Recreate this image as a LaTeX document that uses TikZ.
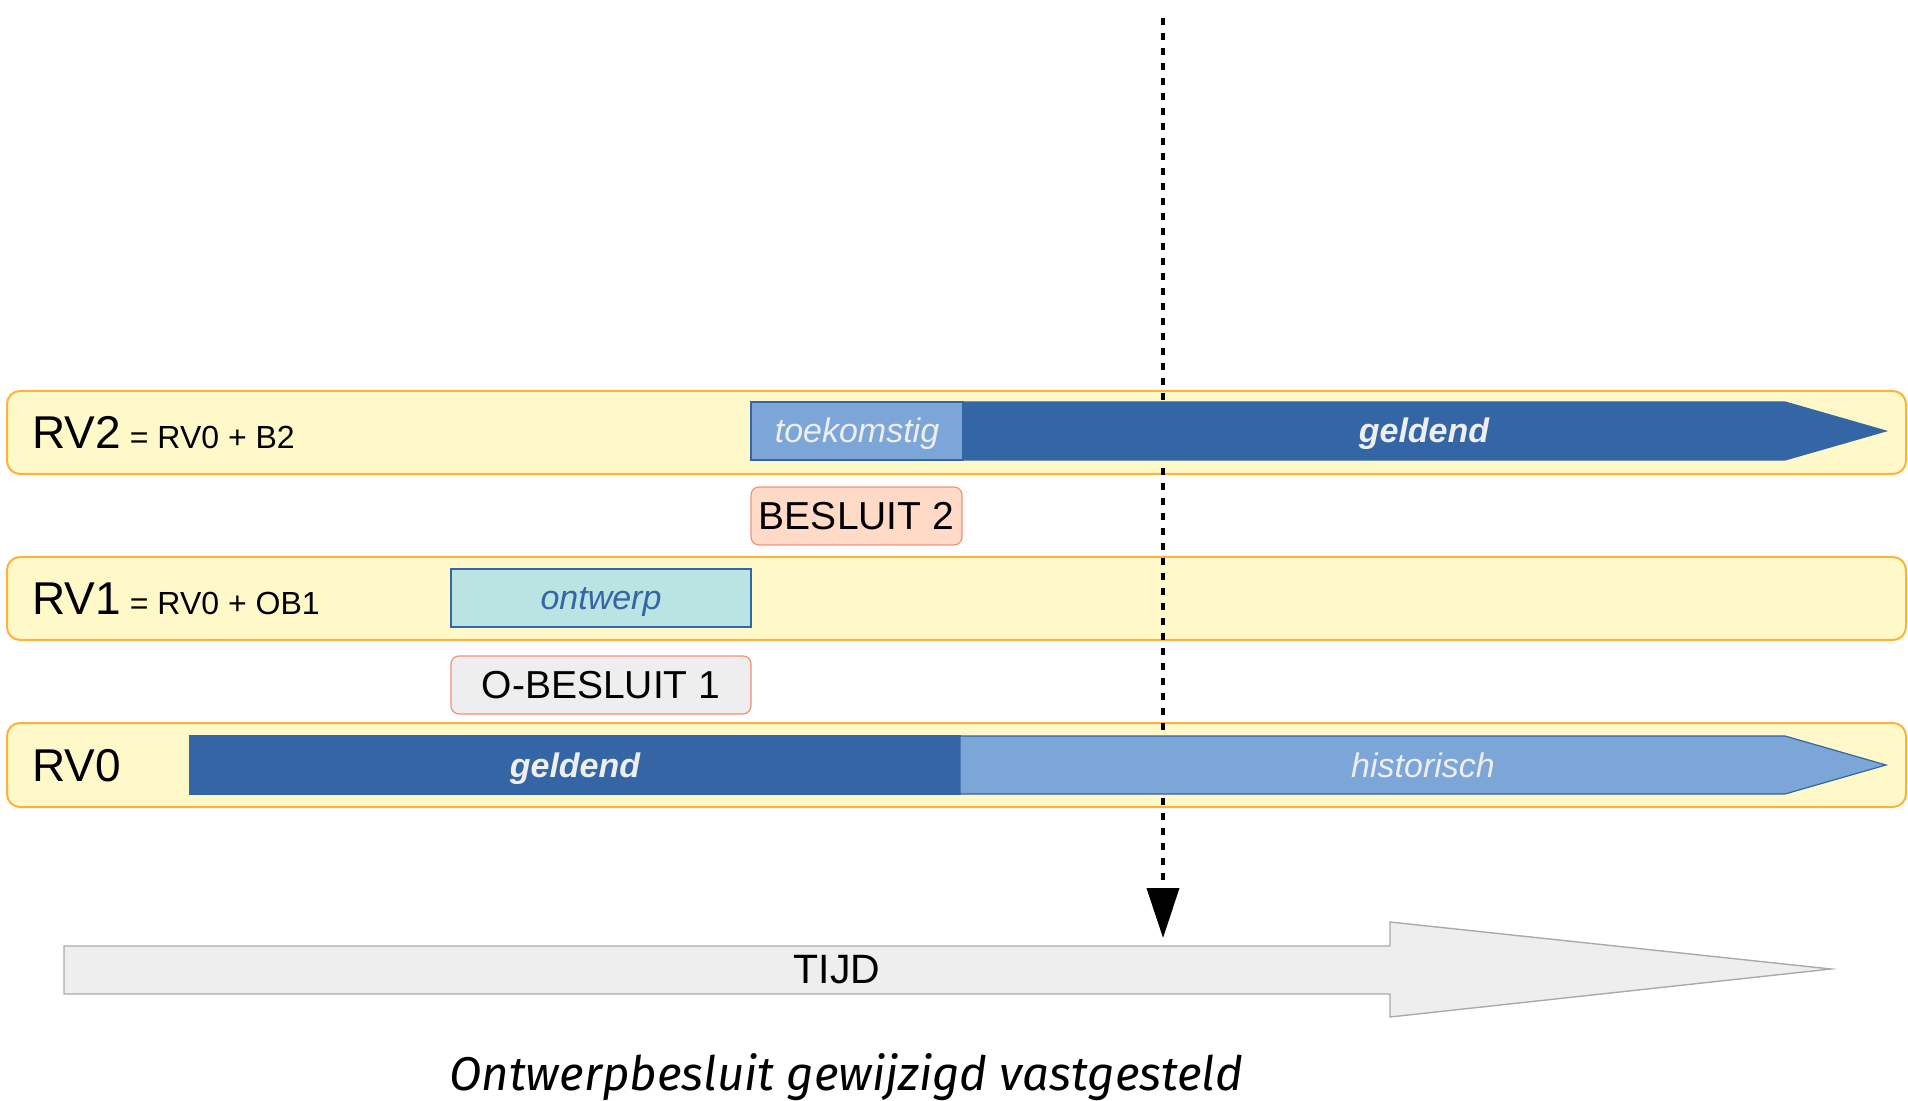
\documentclass[tikz,border=0pt]{standalone}
\usepackage{fontspec}
\setmainfont{Liberation Sans}
\newfontfamily\capfont{Fira Sans}
\usetikzlibrary{arrows.meta}
\definecolor{bandfill}{HTML}{FFF9C9}
\definecolor{bandline}{HTML}{FBB33D}
\definecolor{darkblue}{HTML}{3465A4}
\definecolor{lightblue}{HTML}{7CA6D8}
\definecolor{paletext}{HTML}{EEEEEE}
\definecolor{ontfill}{HTML}{BAE3E3}
\definecolor{besfill}{HTML}{FFDBC7}
\definecolor{besline}{HTML}{F0907C}
\definecolor{greyfill}{HTML}{EEEEEE}
\definecolor{greyline}{HTML}{AAAAAA}
\newcommand\myeqsize{\fontsize{16}{16}\selectfont}
\begin{document}
\begin{tikzpicture}[x=0.5pt,y=-0.5pt,
  band/.style={fill=bandfill,draw=bandline,line width=1pt,rounded corners=6.5pt},
  darkbar/.style={fill=darkblue,draw=darkblue,line width=0.6pt},
  lightbar/.style={fill=lightblue,draw=darkblue,line width=0.6pt},
  ontbox/.style={fill=ontfill,draw=darkblue,line width=0.6pt},
  besbox/.style={draw=besline,line width=0.6pt,rounded corners=4pt,minimum width=105.5pt,minimum height=29pt,inner sep=0pt,font=\fontsize{19.5}{19.5}\selectfont},
  rvlabel/.style={anchor=base west,inner sep=0pt,font=\fontsize{23}{23}\selectfont},
  bartext/.style={anchor=base,inner sep=0pt,font=\fontsize{17}{17}\selectfont\itshape},
  boldbartext/.style={bartext,font=\fontsize{17}{17}\selectfont\bfseries\itshape},
  timeline/.style={dashed,dash pattern=on 3.5pt off 4pt,line width=2pt,black,-{Triangle[length=25pt,width=16pt]}},
]
\useasboundingbox (0,0) rectangle (1908,1101);

% bands
\path[band] (7,391) rectangle (1906,474);
\path[band] (7,557) rectangle (1906,640);
\path[band] (7,723) rectangle (1906,807);

% time marker (behind bars)
\coordinate (mtop) at (1163,18);
\coordinate (mbot) at (1163,938);
\draw[timeline] (mtop) -- (mbot);

% RV2
\node[rvlabel] (rv2) at (32,449) {RV2{\myeqsize\ = RV0 + B2}};
\path[lightbar] (751,402) rectangle (963,460);
\node[bartext,text=paletext] (toek) at (857,443) {toekomstig};
\path[darkbar] (963,402) -- (1785,402) -- (1886,431) -- (1785,460) -- (963,460) -- cycle;
\node[boldbartext,text=paletext] (geld2) at (1424,443) {geldend};

% BESLUIT 2
\node[besbox,fill=besfill] (b2) at (856.5,516) {BESLUIT 2};

% RV1
\node[rvlabel] (rv1) at (32,615) {RV1{\myeqsize\ = RV0 + OB1}};
\path[ontbox] (451,569) rectangle (751,627);
\node[bartext,text=darkblue] (ontw) at (601,610) {ontwerp};

% O-BESLUIT 1
\node[besbox,fill=greyfill,minimum width=150pt] (ob1) at (601,685) {O-BESLUIT 1};

% RV0
\node[rvlabel] (rv0) at (32,781) {RV0};
\path[darkbar] (190,736) rectangle (960,794);
\node[boldbartext,text=paletext] (geld0) at (575,777) {geldend};
\path[lightbar] (960,736) -- (1785,736) -- (1886,765) -- (1785,794) -- (960,794) -- cycle;
\node[bartext,text=paletext] (hist) at (1423,777) {historisch};

% TIJD arrow
\path[fill=greyfill,draw=greyline,line width=0.7pt] (64,946) -- (1390,946) -- (1390,922) -- (1831,969) -- (1390,1017) -- (1390,994) -- (64,994) -- cycle;
\node[inner sep=0pt,font=\fontsize{20.5}{20.5}\selectfont] (tijd) at (837,970) {TIJD};

% caption
\node[anchor=base,inner sep=0pt,font=\capfont\itshape\fontsize{23.7}{23.7}\selectfont] (cap) at (846,1090) {Ontwerpbesluit gewijzigd vastgesteld};
\end{tikzpicture}
\end{document}
